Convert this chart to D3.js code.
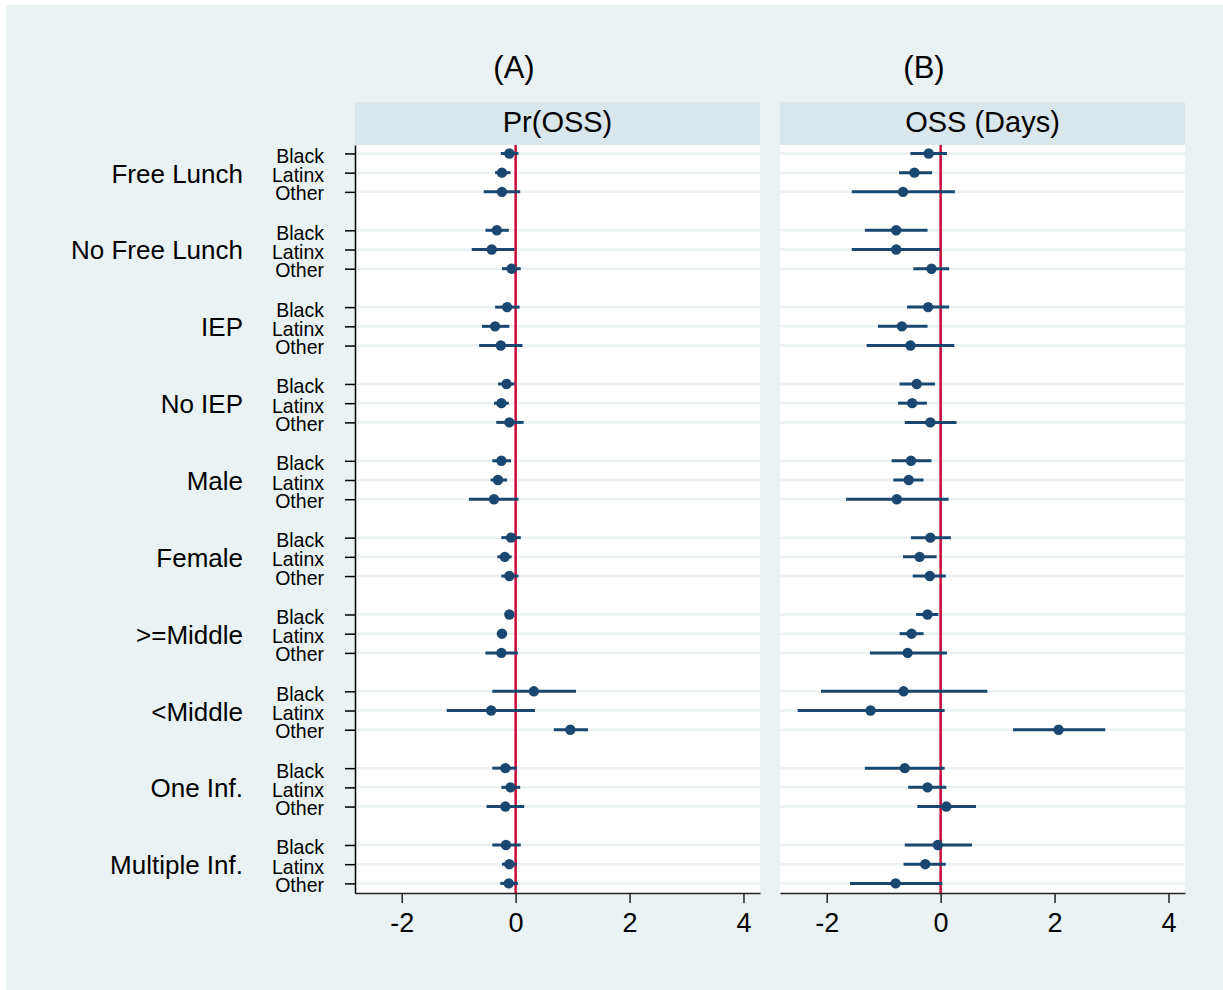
<!DOCTYPE html>
<html>
<head>
<meta charset="utf-8">
<script src="https://cdn.jsdelivr.net/npm/d3@7"></script>
<style>
  body { margin: 0; background: #fff; }
  text { font-family: "Liberation Sans", Arial, sans-serif; fill: #000; }
</style>
</head>
<body>
<div id="chart"></div>
<script>
// coefficient plot, two panels
var groups = ["Free Lunch", "No Free Lunch", "IEP", "No IEP", "Male", "Female",
              ">=Middle", "<Middle", "One Inf.", "Multiple Inf."];
var races = ["Black", "Latinx", "Other"];
var titles = ["(A)", "(B)"];
var headers = ["Pr(OSS)", "OSS (Days)"];
var xTicks = [-2, 0, 2, 4];

// panel A: Pr(OSS)
var estA = [-0.11, -0.24, -0.24,  -0.33, -0.42, -0.07,  -0.15, -0.36, -0.26,
            -0.16, -0.25, -0.11,  -0.25, -0.31, -0.38,  -0.08, -0.19, -0.11,
            -0.11, -0.24, -0.25,   0.32, -0.43,  0.96,  -0.18, -0.09, -0.18,
            -0.17, -0.11, -0.12];
var loA  = [-0.26, -0.36, -0.56,  -0.53, -0.77, -0.24,  -0.36, -0.59, -0.64,
            -0.31, -0.38, -0.34,  -0.41, -0.44, -0.82,  -0.25, -0.32, -0.25,
            -0.17, -0.33, -0.53,  -0.41, -1.21,  0.67,  -0.41, -0.25, -0.51,
            -0.41, -0.24, -0.27];
var hiA  = [ 0.05, -0.09,  0.08,  -0.12, -0.02,  0.09,   0.07, -0.11,  0.12,
            -0.02, -0.12,  0.14,  -0.08, -0.15,  0.05,   0.09, -0.07,  0.05,
            -0.04, -0.15,  0.04,   1.06,  0.34,  1.27,   0.02,  0.08,  0.15,
             0.09,  0.02,  0.04];

// panel B: OSS (Days)
var estB = [-0.21, -0.46, -0.66,  -0.78, -0.78, -0.16,  -0.22, -0.68, -0.53,
            -0.42, -0.50, -0.18,  -0.52, -0.56, -0.77,  -0.18, -0.37, -0.19,
            -0.23, -0.51, -0.58,  -0.65, -1.23,  2.07,  -0.63, -0.23,  0.10,
            -0.05, -0.27, -0.79];
var loB  = [-0.53, -0.73, -1.56,  -1.33, -1.56, -0.48,  -0.59, -1.10, -1.30,
            -0.72, -0.75, -0.63,  -0.86, -0.83, -1.66,  -0.52, -0.66, -0.49,
            -0.43, -0.72, -1.24,  -2.10, -2.51,  1.27,  -1.33, -0.57, -0.41,
            -0.63, -0.65, -1.59];
var hiB  = [ 0.11, -0.15,  0.25,  -0.23, -0.01,  0.15,   0.15, -0.23,  0.24,
            -0.10, -0.24,  0.28,  -0.16, -0.30,  0.14,   0.18, -0.07,  0.09,
            -0.04, -0.30,  0.11,   0.82,  0.07,  2.89,   0.07,  0.10,  0.62,
             0.55,  0.09,  0.03];

var W = 1223, H = 990;
var panelX = [355, 780], panelW = 405;
var titleX = [514, 924];
var plotTop = 145, plotBot = 893, headTop = 102;
var navy = "#1a476f", red = "#c90a36";

var svg = d3.select("#chart").append("svg")
    .attr("width", W).attr("height", H);

svg.append("rect").attr("x", 6).attr("y", 5)
    .attr("width", W - 6).attr("height", H - 5)
    .attr("fill", "#eaf2f3");

// row index: group g, race r -> 4g + r
var y = d3.scaleLinear().domain([-0.44, 38.5]).range([plotTop, plotBot]);
function rowIdx(g, r) { return g * 4 + r; }

var rows = [];
groups.forEach(function (g, gi) {
    races.forEach(function (r, ri) {
        rows.push({ group: g, race: r, idx: rowIdx(gi, ri), k: gi * 3 + ri });
    });
});

// left labels
var lab = svg.append("g");
lab.selectAll(".glab").data(groups).enter().append("text")
    .attr("x", 243).attr("y", function (d, i) { return y(rowIdx(i, 1)) + 10; })
    .attr("text-anchor", "end").style("font-size", "26px")
    .text(function (d) { return d; });
lab.selectAll(".rlab").data(rows).enter().append("text")
    .attr("transform", function (d) {
        return "translate(324," + (y(d.idx) + (d.race == "Other" ? 8.5 : 9.5)) + ") scale(0.93,1)";
    })
    .attr("text-anchor", "end").style("font-size", "21px")
    .text(function (d) { return d.race; });

var panelData = [
    { est: estA, lo: loA, hi: hiA },
    { est: estB, lo: loB, hi: hiB }
];

panelData.forEach(function (pd, p) {
    var x = d3.scaleLinear().domain([-2.82, 4.29]).range([0, panelW]);
    var g = svg.append("g").attr("transform", "translate(" + panelX[p] + ",0)");

    svg.append("text").attr("x", titleX[p]).attr("y", 78)
        .attr("text-anchor", "middle").style("font-size", "31px")
        .text(titles[p]);

    g.append("rect").attr("x", 0).attr("y", headTop)
        .attr("width", panelW).attr("height", plotTop - headTop)
        .attr("fill", "#d9e6eb");
    g.append("text").attr("x", panelW / 2).attr("y", 132)
        .attr("text-anchor", "middle").style("font-size", "29px")
        .text(headers[p]);

    g.append("rect").attr("x", 0).attr("y", plotTop)
        .attr("width", panelW).attr("height", plotBot - plotTop)
        .attr("fill", "#fff");

    // grid lines
    g.selectAll(".grid").data(rows).enter().append("line")
        .attr("x1", 0).attr("x2", panelW)
        .attr("y1", function (d) { return y(d.idx); })
        .attr("y2", function (d) { return y(d.idx); })
        .attr("stroke", "#eaf2f3").attr("stroke-width", 2.5);

    // zero line
    g.append("line").attr("x1", x(0)).attr("x2", x(0))
        .attr("y1", plotTop).attr("y2", plotBot)
        .attr("stroke", red).attr("stroke-width", 2.5);

    // CIs
    g.selectAll(".ci").data(rows).enter().append("line")
        .attr("x1", function (d) { return x(pd.lo[d.k]); })
        .attr("x2", function (d) { return x(pd.hi[d.k]); })
        .attr("y1", function (d) { return y(d.idx); })
        .attr("y2", function (d) { return y(d.idx); })
        .attr("stroke", navy).attr("stroke-width", 3);

    g.selectAll(".pt").data(rows).enter().append("circle")
        .attr("cx", function (d) { return x(pd.est[d.k]); })
        .attr("cy", function (d) { return y(d.idx); })
        .attr("r", 5.2).attr("fill", navy);

    // axes
    var xa = g.append("g").attr("transform", "translate(0," + plotBot + ")")
        .call(d3.axisBottom(x).tickValues(xTicks).tickSize(10).tickSizeOuter(0)
            .tickPadding(10).tickFormat(function (d) { return String(d); }));
    xa.select(".domain").attr("stroke", "#222").attr("stroke-width", 1.5);
    xa.selectAll(".tick line").attr("stroke", "#222").attr("stroke-width", 1.5);
    xa.selectAll(".tick text").style("font-size", "27px")
        .style("font-family", "'Liberation Sans', Arial, sans-serif").attr("fill", "#000");

    if (p == 0) {
        var ya = g.append("g")
            .call(d3.axisLeft(y).tickValues(rows.map(function (d) { return d.idx; }))
                .tickSize(10).tickSizeOuter(0).tickFormat(""));
        ya.select(".domain").attr("stroke", "#000").attr("stroke-width", 1.5);
        ya.selectAll(".tick line").attr("stroke", "#000").attr("stroke-width", 1.5);
    }
});
</script>
</body>
</html>
